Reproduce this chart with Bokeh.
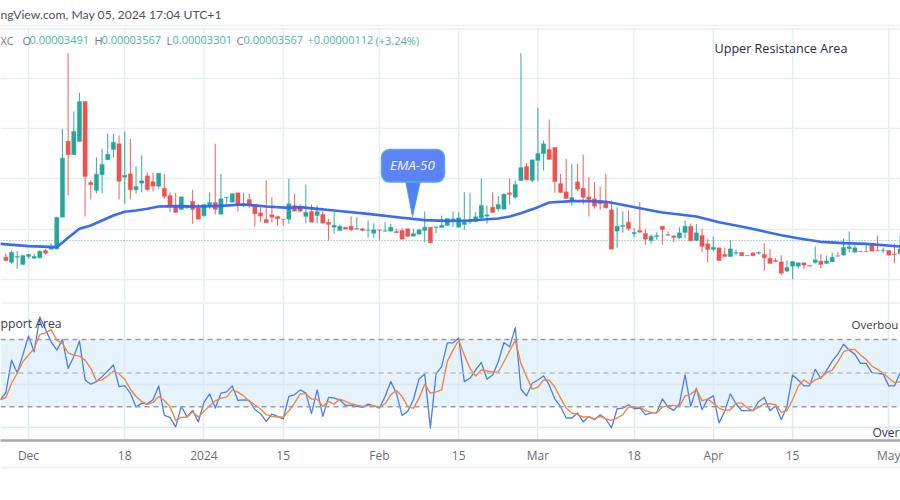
import numpy as np
from bokeh.embed import file_html
from bokeh.resources import INLINE
from bokeh.layouts import column
from bokeh.models import (BoxAnnotation, ColumnDataSource, FixedTicker, Grid, Label,
                          Range1d, Span)
from bokeh.plotting import figure

# ---- data ----------------------------------------------------------------
first_day = -4  # days relative to 1 Dec 2023
opens = [730,715,730,708,732,727,728,750,754,755,
 850,1078,1037,1077,1197,954,930,977,1022,1053,
 1070,970,980,932,952,974,956,943,937,915,
 885,873,878,897,878,854,884,894,859,908,
 895,923,887,903,888,863,843,857,852,844,
 844,885,880,
 852,867,855,858,835,820,810,820,823,814,
 815,810,802,812,808,808,807,810,815,793,
 799,810,820,819,819,825,843,820,828,836,
 837,848,853,880,875,874,923,910,960,1002,
 960,1020,1040,1053,1059,951,926,900,956,937,
 911,905,900,
 892,872,808,822,835,800,810,801,780,792,
 823,798,794,788,804,823,780,795,770,753,
 758,738,732,742,744,734,743,742,738,727,
 720,716,688,703,703,713,705,714,718,711,
 716,734,736,755,745,748,746,767,750,749,
 750,740,740]
highs = [742,750,748,737,740,740,750,755,772,850,
 1115,1342,1167,1223,1197,960,1030,1055,1100,1100,
 1095,1107,1085,1003,1035,985,983,982,980,925,
 923,911,885,932,890,890,925,1070,980,910,
 922,923,923,920,888,880,960,910,852,844,
 965,920,888,
 948,888,885,868,845,865,828,820,852,850,
 817,840,832,812,835,830,815,817,815,815,
 815,867,820,821,855,846,867,865,925,923,
 865,965,885,925,913,922,965,960,1342,1013,
 1022,1178,1080,1143,1059,980,1025,1010,1010,1038,
 970,955,942,
 980,900,880,867,870,817,895,815,798,805,
 823,807,794,820,840,832,830,815,785,792,
 758,758,780,752,744,735,743,747,772,755,
 728,736,720,717,715,713,705,762,740,735,
 745,745,785,807,765,748,770,767,795,758,
 750,770,795]
lows = [718,710,695,707,725,725,726,738,752,753,
 850,915,1037,1077,852,903,922,922,1022,1030,
 903,890,903,920,925,930,928,935,905,865,
 864,873,875,830,844,852,875,858,859,890,
 895,867,880,878,822,835,833,835,825,825,
 830,868,865,
 832,835,832,832,780,800,810,814,808,814,
 808,788,788,782,808,808,803,784,792,793,
 799,775,773,802,819,825,820,820,812,830,
 835,845,830,864,868,874,888,905,960,960,
 955,958,990,1023,923,922,906,885,928,888,
 852,875,872,
 875,754,758,803,810,790,803,767,772,782,
 767,795,775,785,787,777,778,745,715,748,
 720,732,730,735,734,734,734,738,690,711,
 715,677,685,664,695,695,703,710,697,710,
 715,732,735,745,745,746,745,748,748,742,
 734,712,738]
closes = [720,745,732,735,738,732,748,742,758,850,
 1027,1037,1107,1197,972,947,979,1008,1039,1075,
 958,976,932,942,959,932,943,982,912,883,
 864,911,885,873,844,888,894,873,905,910,
 920,887,890,885,860,853,833,850,845,843,
 890,868,868,
 865,835,867,832,828,826,823,814,812,816,
 810,811,812,811,809,820,803,784,792,801,
 812,820,773,821,826,846,845,848,838,843,
 851,885,857,864,888,919,918,948,999,962,
 1022,1041,1070,1023,957,924,906,909,934,910,
 903,883,890,
 878,754,823,825,815,804,805,784,793,795,
 813,796,789,803,823,779,803,762,753,760,
 720,732,755,744,734,735,734,744,728,711,
 717,682,699,717,713,706,703,722,708,719,
 730,733,759,761,758,746,747,748,749,751,
 736,738,755]

ema_days = [-5,0,5,7,9,11,13,15,17,19,21,23,26,31,34,38,42,46,48,51,54,60,66,70,74,78,83,85,87,90,
            92,96,99,102,104,108,112,118,122,127,133,137,140,144,148,154]
ema_values = [770,763,760,788,815,825,840,855,866,870,875,882,883,882,884,888,882,878,880,875,870,860,848,841,839,840,846,852,862,880,
              894,898,898,896,890,877,864,852,835,818,796,784,776,772,770,762]

osc_first_day = -5
osc_fast = [200,222,320,282,335,393,345,450,413,375,350,382,295,330,378,260,247,255,270,287,
 305,240,243,220,178,190,188,200,242,153,147,118,180,148,168,133,192,218,175,220,
 224,242,198,200,198,170,158,135,157,150,142,210,215,230,
 220,158,230,150,207,205,200,183,183,180,177,187,182,175,210,255,220,153,165,200,
 263,278,115,278,300,372,372,387,255,265,290,313,262,275,315,373,360,418,232,212,
 250,260,272,245,202,180,145,145,160,133,150,140,155,
 142,115,173,175,185,173,175,155,160,162,203,178,168,188,275,180,235,170,202,212,
 130,165,218,188,167,167,167,195,207,167,182,140,180,275,260,242,242,292,265,288,
 317,338,368,350,338,310,310,282,280,278,242,242,282]
osc_slow = [200,207,250,280,315,335,355,397,402,412,380,370,342,335,332,320,295,257,260,272,
 287,278,262,232,210,195,186,192,210,198,180,138,147,148,163,148,165,182,197,205,
 208,230,223,212,195,185,172,155,150,148,148,167,190,218,
 218,202,202,180,195,187,202,195,188,184,180,182,182,178,188,215,228,210,180,174,
 205,247,220,224,230,317,350,380,335,295,272,290,287,284,284,315,348,380,310,270,
 232,238,260,260,238,205,175,160,155,148,148,142,150,
 142,138,145,155,178,178,177,167,162,160,178,182,183,180,212,217,232,197,202,190,
 175,168,170,190,190,175,167,178,188,188,185,162,167,200,242,260,248,260,267,282,
 290,315,345,352,352,335,322,302,292,280,265,252,255]
osc_levels = [382, 281, 179]
osc_grid = [247, 115]
last_price = 780
price_grid = [1265, 1115, 965, 812, 662]

tick_days = [0,17,31,45,62,76,90,107,121,135,152]
tick_labels = ["Dec","18","2024","15","Feb","15","Mar","18","Apr","15","May"]

# ---- page geometry helpers (reference pixel -> data) -----------------------
W, H1, H2, H3 = 900, 302, 164, 34
PX0, DAY_PX = 28.0, 5.66
def dx(px): return (px - PX0) / DAY_PX
def py1(y): return 1500 - 3 * y
def py2(y): return 500 - 3 * (y - 300)

UP, DOWN = "#26a69a", "#ef5350"
GRID = "#e6eef5"
FONT = "Open Sans"
xr = Range1d(dx(0), dx(900))

# ---- price pane -----------------------------------------------------------
p1 = figure(width=W, height=H1, x_range=xr, y_range=Range1d(py1(302), py1(0)),
            x_axis_type=None, y_axis_type=None, output_backend="svg",
            toolbar_location=None, min_border=0, outline_line_color=None,
            background_fill_color="white", border_fill_color="white")
p1.add_layout(Grid(dimension=1, ticker=FixedTicker(ticks=price_grid), grid_line_color=GRID, grid_line_width=1.5))
p1.segment(tick_days, py1(302), tick_days, py1(27), line_color=GRID, line_width=1.5)
for y, c in ((25, "#eef0f4"), (28.3, "#e8eef5")):
    p1.add_layout(Span(location=py1(y), dimension="width", line_color=c, line_width=1.5))
p1.add_layout(Span(location=last_price, dimension="width", line_color=UP, line_alpha=0.75,
                   line_dash=[1, 2], line_width=1.2))

days = np.arange(len(opens)) + first_day
o, h, l, c = map(np.array, (opens, highs, lows, closes))
up = c >= o
for mask, col in ((up, UP), (~up, DOWN)):
    src = ColumnDataSource(dict(x=days[mask], o=o[mask], h=h[mask], l=l[mask], c=c[mask]))
    p1.segment("x", "h", "x", "l", source=src, line_color=col, line_width=1.1, line_alpha=0.85)
    p1.vbar("x", 0.76, "o", "c", source=src, fill_color=col, line_color=col, line_width=0.3)
p1.line(ema_days, ema_values, line_color="#2f63f3", line_width=2.6, line_alpha=0.95, line_join="round")

# callout
p1.patch([dx(405), dx(420), dx(412)], [py1(180), py1(180), py1(216)], fill_color="#4f82f0",
         line_color="#4f9ee0", line_width=1)
p1.add_layout(BoxAnnotation(left=dx(381), right=dx(444), top=py1(149), bottom=py1(181.5), border_radius=8,
                            fill_color="#5b82f6", fill_alpha=1, line_color="#5aa8dc", line_width=1.5, line_alpha=1))
p1.add_layout(Label(x=dx(412), y=py1(164.5), text="EMA-50", text_align="center", text_baseline="middle",
                    text_color="#f4f7ff", text_font=FONT, text_font_style="italic", text_font_size="13.5px"))

def label(fig, yf, px, y, text, color, size="11px", font=FONT):
    fig.add_layout(Label(x=dx(px), y=yf(y), text=text, text_color=color, text_font=font, text_font_size=size,
                         text_align="left", text_baseline="middle"))

GREY = "#787b86"
label(p1, py1, 0, 14, "ngView.com, May 05, 2024 17:04 UTC+1", "#50535e", "12.2px", "Lato")
label(p1, py1, 0, 39.5, "XC", GREY)
for px, t, col in ((22, "O", GREY), (29, "0.00003491", "#4db6a9"), (94, "H", GREY), (101, "0.00003567", "#4db6a9"),
                   (166, "L", GREY), (172, "0.00003301", "#4db6a9"), (236, "C", GREY), (243, "0.00003567", "#4db6a9"),
                   (307, "+0.00000112", "#4db6a9"), (375, "(+3.24%)", "#4db6a9")):
    label(p1, py1, px, 39.5, t, col)
label(p1, py1, 714, 48, "Upper Resistance Area", "#2a2e39", "12.6px")

# ---- oscillator pane ------------------------------------------------------
p2 = figure(width=W, height=H2, x_range=xr, y_range=Range1d(py2(441), py2(302)),
            y_axis_type=None, output_backend="svg", toolbar_location=None, min_border=0,
            min_border_bottom=25, outline_line_color=None,
            background_fill_color="white", border_fill_color="white")
p2.grid.visible = False
ax = p2.xaxis[0]
ax.ticker = FixedTicker(ticks=tick_days)
ax.major_label_overrides = dict(zip(tick_days, tick_labels))
ax.axis_line_color = "#a5a7ad"
ax.axis_line_width = 2.5
ax.major_tick_line_color = None
ax.minor_tick_line_color = None
ax.major_label_standoff = 0
ax.major_label_text_font = FONT
ax.major_label_text_font_size = "12px"
ax.major_label_text_color = "#6a6d78"

p2.add_layout(BoxAnnotation(bottom=osc_levels[2], top=osc_levels[0], fill_color="#e3f2fd", fill_alpha=0.9,
                            line_color=None, level="underlay"))
p2.add_layout(Grid(dimension=1, ticker=FixedTicker(ticks=osc_grid), grid_line_color="#dbe7f3", grid_line_width=1.3))
p2.add_layout(Grid(dimension=0, ticker=FixedTicker(ticks=tick_days), grid_line_color="#dfeaf4", grid_line_width=1.5))
p2.add_layout(Span(location=py2(302.3), dimension="width", line_color="#e0e3eb", line_width=1.5))
for lev, col in zip(osc_levels, ("#9b9ba0", "#bdbdc2", "#9b9ba0")):
    p2.add_layout(Span(location=lev, dimension="width", line_color=col, line_width=1.5, line_dash=[5, 4]))

osc_x = np.arange(len(osc_fast)) + osc_first_day
p2.line(osc_x, osc_fast, line_color="#4a7df5", line_width=1.3, line_join="round")
p2.line(osc_x, osc_slow, line_color="#f5873a", line_width=1.4, line_join="round")

label(p2, py2, 0, 323.5, "pport Area", "#3a3d47", "12.2px")
label(p2, py2, 851, 324.5, "Overbou", "#3a3d47", "11.5px")
label(p2, py2, 872, 433, "Over", "#3a3d47", "12px")

# ---- footer strip ---------------------------------------------------------
p3 = figure(width=W, height=H3, x_range=xr, y_range=Range1d(0, H3),
            x_axis_type=None, y_axis_type=None, output_backend="svg", toolbar_location=None,
            min_border=0, outline_line_color=None, background_fill_color="white", border_fill_color="white")
p3.add_layout(Span(location=H3 - 1, dimension="width", line_color="#eef0f3", line_width=2.5))

page = column(p1, p2, p3)
open("out.html", "w").write(file_html(page, INLINE))
